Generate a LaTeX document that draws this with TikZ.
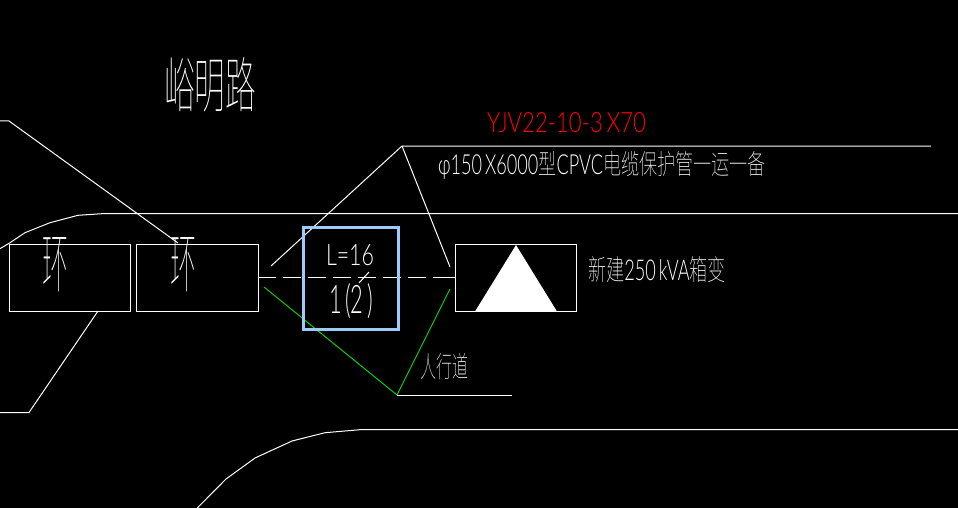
\documentclass[tikz,border=0pt]{standalone}
\usepackage{graphicx}
\usepackage{fontspec}
\setmainfont{Lato}[UprightFont=* Light]
\newfontfamily\cjk{Noto Sans CJK SC}[UprightFont=* Thin]
\newcommand{\fit}[3]{\resizebox{#1pt}{#2pt}{#3}}
\definecolor{sel}{HTML}{9CCBFA}
\definecolor{gl}{HTML}{10C810}
\tikzset{
 x=1pt,y=-1pt,
 wline/.style={draw=white,line width=1pt},
 gline/.style={draw=gl,line width=1pt},
 lbl/.style={text=white,inner sep=0pt,outer sep=0pt},
 box/.style={draw=white,line width=1pt,fill=none,minimum height=67pt,inner sep=0pt,outer sep=0pt}
}
\begin{document}
\begin{tikzpicture}
\fill[black] (0,0) rectangle (958,508);
\useasboundingbox (0,0) rectangle (958,508);
% roads
\draw[wline] (0,121) -- (9,121) -- (178,243);
\draw[wline] (0,248.7) -- (10,242.7) -- (25,232.7) -- (50,222.7) -- (78,215.3) -- (102,213.7) -- (958,213.7);
\draw[wline] (0,412.5) -- (29,412.5) -- (98,311);
\draw[wline] (197.3,508) -- (226,479) -- (255,458) -- (292,441) -- (325,432.7) -- (360,429.7) -- (958,429.7);
% boxes
\node[box,minimum width=121.5pt] (h1) at (70,277.5) {};
\node[box,minimum width=121.5pt] (h2) at (197.7,277.5) {};
\node[box,minimum width=121.5pt] (tr) at (516,277.5) {};
\fill[white] (516,245) -- (557,311.5) -- (475,311.5) -- cycle;
% leader coordinates
\coordinate (p1) at (271,266);
\coordinate (p2) at (402,146);
\coordinate (p3) at (931,146);
\coordinate (p4) at (450,267);
\coordinate (g1) at (264,287);
\coordinate (g2) at (397,395);
\coordinate (g3) at (450,289);
\coordinate (g4) at (512,395);
\draw[wline] (p1) -- (p2) -- (p3);
\draw[wline] (p2) -- (p4);
\draw[gline] (g1) -- (g2) -- (g3);
\draw[wline] (g2) -- (g4);
% cable
\draw[wline,dash pattern=on 18pt off 7pt] (h2.east) -- (tr.west);
\draw[wline] (tr.west) -- ++(-4,0);
\coordinate (t1) at (359,283);
\coordinate (t2) at (369,272);
\draw[wline] (t1) -- (t2);
% selection
\draw[draw=sel,line width=3pt] (303.5,227) rectangle (398,329);
% labels
\node[lbl,anchor=west] (road) at (164,85) {\fit{92}{50}{\cjk 峪明路}};
\node[lbl,anchor=west] (huan1) at (42,265) {\fit{26}{50}{\cjk 环}};
\node[lbl,anchor=west] (huan2) at (170,265) {\fit{26}{50}{\cjk 环}};
\node[lbl,anchor=west,text=red] (cab) at (487,123) {\fit{159}{20}{YJV22-10-3\,X70}};
\node[lbl,anchor=west] (pipe) at (438,165) {\fit{328}{23}{φ150\,X6000{\cjk 型}CPVC{\cjk 电缆保护管一运一备}}};
\node[lbl,anchor=west] (new) at (588,270) {\fit{138}{24}{{\cjk 新建}250\,kVA{\cjk 箱变}}};
\node[lbl,anchor=west] (walk) at (420,367) {\fit{48}{24}{\cjk 人行道}};
\node[lbl,anchor=center] (len) at (350,255) {\fit{48}{21}{L=16}};
\node[lbl,anchor=center] (cnt) at (351,301) {\fit{44}{30}{1\,(2\,)}};
\end{tikzpicture}
\end{document}
